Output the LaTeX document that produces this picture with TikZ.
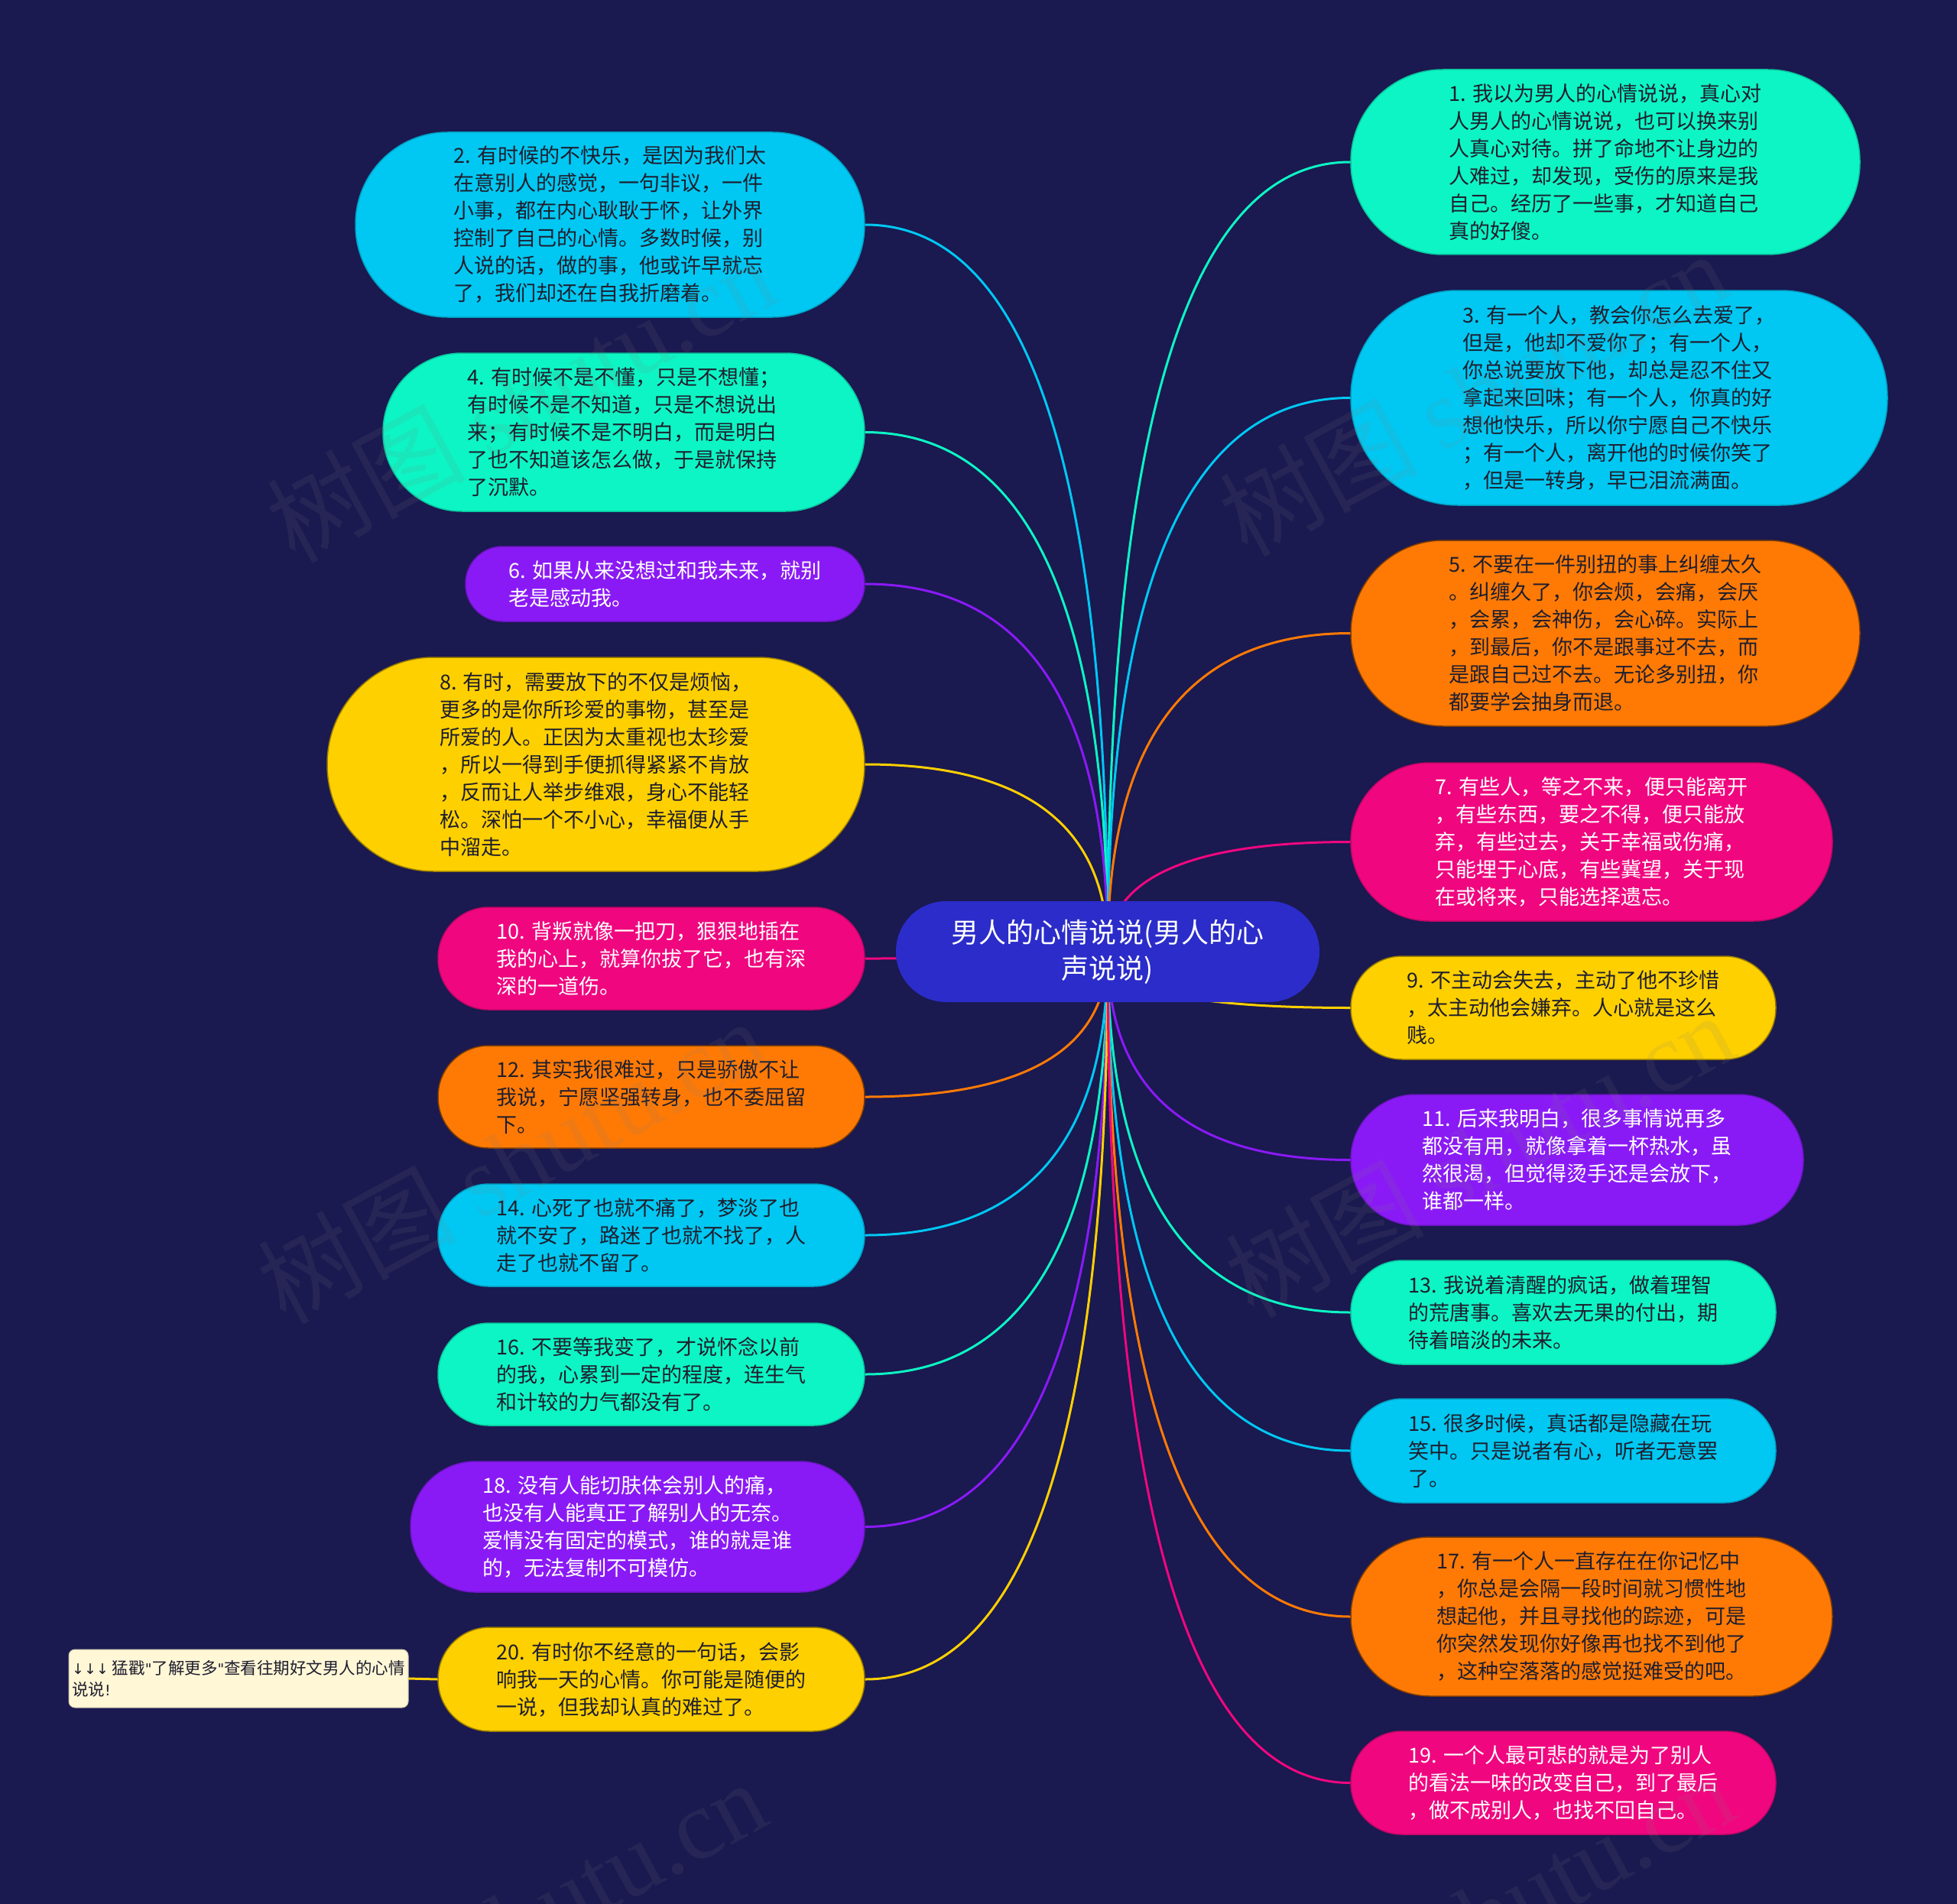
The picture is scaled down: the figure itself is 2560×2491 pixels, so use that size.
\documentclass[tikz,border=0pt]{standalone}
\usepackage{fontspec}
\setmainfont{Noto Sans CJK SC}
\newfontfamily\wmserif{Liberation Serif}
\newfontfamily\symf{DejaVu Sans}
\usetikzlibrary{calc}
\definecolor{bgc}{HTML}{1A1950}
\definecolor{ccyan}{HTML}{00C8F2}
\definecolor{caqua}{HTML}{0DF5C4}
\definecolor{cpurp}{HTML}{8A1AF5}
\definecolor{cyell}{HTML}{FFD000}
\definecolor{cpink}{HTML}{F0077F}
\definecolor{corng}{HTML}{FF7A05}
\definecolor{croot}{HTML}{2B2CC9}
\definecolor{cnote}{HTML}{FFF7D6}
\definecolor{dtext}{HTML}{1E1E2E}
\pgfdeclarelayer{bglayer}
\pgfdeclarelayer{edgelayer}
\pgfdeclarelayer{wmlayer}
\pgfsetlayers{bglayer,edgelayer,main,wmlayer}
\tikzset{
  bub/.style 2 args={rectangle, rounded corners=#2*0.5pt-0.5pt,
    minimum width=#1pt, minimum height=#2pt, inner sep=0pt, align=left,
    font=\fontsize{27}{36}\selectfont, text=dtext, line width=1.5pt},
  cyanbox/.style={fill=ccyan, draw=ccyan!80!black},
  aquabox/.style={fill=caqua, draw=caqua!80!black},
  yellbox/.style={fill=cyell, draw=cyell!60!black},
  orngbox/.style={fill=corng, draw=corng!50!black},
  purpbox/.style={fill=cpurp, draw=cpurp!80!black, text=white},
  pinkbox/.style={fill=cpink, draw=cpink!80!black, text=white},
  rootbox/.style={rectangle, rounded corners=65.5pt, minimum width=554pt,
    minimum height=132pt, inner sep=0pt, align=center, fill=croot,
    text=white, font=\fontsize{36}{47}\selectfont},
  notebox/.style={rectangle, rounded corners=8pt, minimum width=444pt,
    minimum height=76pt, inner sep=0pt, align=left, fill=cnote,
    draw=cnote!80!black, line width=1pt, text=dtext,
    font=\fontsize{21.5}{28}\selectfont},
  conn/.style={line width=3pt, line cap=round},
  wm/.style={text=gray, opacity=0.12, font=\fontsize{130}{130}\selectfont, inner sep=0pt}
}
\newcommand\linkL[2]{\draw[conn,#2] (root.center) .. controls ($(root.center)!0.6667!(root.center |- #1.east)$) and ($(#1.east)!0.6667!(root.center |- #1.east)$) .. (#1.east);}
\newcommand\linkR[2]{\draw[conn,#2] (root.center) .. controls ($(root.center)!0.6667!(root.center |- #1.west)$) and ($(#1.west)!0.6667!(root.center |- #1.west)$) .. (#1.west);}
\begin{document}
\begin{tikzpicture}[x=1pt,y=-1pt]
\begin{pgfonlayer}{bglayer}
\fill[bgc] (0,0) rectangle (2560,2491);
\end{pgfonlayer}
\useasboundingbox (0,0) rectangle (2560,2491);

\node[rootbox] (root) at (1449,1245) {男人的心情说说(男人的心\\声说说)};

% left side
\node[bub={666}{242}, cyanbox] (n2) at (798,294) {2. 有时候的不快乐，是因为我们太\\在意别人的感觉，一句非议，一件\\小事，都在内心耿耿于怀，让外界\\控制了自己的心情。多数时候，别\\人说的话，做的事，他或许早就忘\\了，我们却还在自我折磨着。};
\node[bub={630}{207}, aquabox] (n4) at (816,565.5) {4. 有时候不是不懂，只是不想懂；\\有时候不是不知道，只是不想说出\\来；有时候不是不明白，而是明白\\了也不知道该怎么做，于是就保持\\了沉默。};
\node[bub={522}{98}, purpbox] (n6) at (870,764) {6. 如果从来没想过和我未来，就别\\老是感动我。};
\node[bub={703}{280}, yellbox] (n8) at (779.5,1000) {8. 有时，需要放下的不仅是烦恼，\\更多的是你所珍爱的事物，甚至是\\所爱的人。正因为太重视也太珍爱\\，所以一得到手便抓得紧紧不肯放\\，反而让人举步维艰，身心不能轻\\松。深怕一个不小心，幸福便从手\\中溜走。};
\node[bub={558}{134}, pinkbox] (n10) at (852,1254) {10. 背叛就像一把刀，狠狠地插在\\我的心上，就算你拔了它，也有深\\深的一道伤。};
\node[bub={558}{134}, orngbox] (n12) at (852,1435) {12. 其实我很难过，只是骄傲不让\\我说，宁愿坚强转身，也不委屈留\\下。};
\node[bub={558}{134}, cyanbox] (n14) at (852,1616) {14. 心死了也就不痛了，梦淡了也\\就不安了，路迷了也就不找了，人\\走了也就不留了。};
\node[bub={558}{134}, aquabox] (n16) at (852,1798) {16. 不要等我变了，才说怀念以前\\的我，心累到一定的程度，连生气\\和计较的力气都没有了。};
\node[bub={594}{171}, purpbox] (n18) at (834,1997.5) {18. 没有人能切肤体会别人的痛，\\也没有人能真正了解别人的无奈。\\爱情没有固定的模式，谁的就是谁\\的，无法复制不可模仿。};
\node[bub={558}{136}, yellbox] (n20) at (852,2197) {20. 有时你不经意的一句话，会影\\响我一天的心情。你可能是随便的\\一说，但我却认真的难过了。};
\node[notebox] (note) at (312,2196) {{\symf\fontsize{19}{28}\selectfont ↓↓↓} 猛戳{\symf\fontsize{19}{28}\selectfont "}了解更多{\symf\fontsize{19}{28}\selectfont "}查看往期好文男人的心情\\说说{\symf\fontsize{19}{28}\selectfont !}};

% right side
\node[bub={666}{242}, aquabox] (n1) at (2100,212) {1. 我以为男人的心情说说，真心对\\人男人的心情说说，也可以换来别\\人真心对待。拼了命地不让身边的\\人难过，却发现，受伤的原来是我\\自己。经历了一些事，才知道自己\\真的好傻。};
\node[bub={702}{281}, cyanbox] (n3) at (2118,520.5) {3. 有一个人，教会你怎么去爱了，\\但是，他却不爱你了；有一个人，\\你总说要放下他，却总是忍不住又\\拿起来回味；有一个人，你真的好\\想他快乐，所以你宁愿自己不快乐\\；有一个人，离开他的时候你笑了\\，但是一转身，早已泪流满面。};
\node[bub={666}{243}, orngbox] (n5) at (2100,828.5) {5. 不要在一件别扭的事上纠缠太久\\。纠缠久了，你会烦，会痛，会厌\\，会累，会神伤，会心碎。实际上\\，到最后，你不是跟事过不去，而\\是跟自己过不去。无论多别扭，你\\都要学会抽身而退。};
\node[bub={630}{207}, pinkbox] (n7) at (2082,1101.5) {7. 有些人，等之不来，便只能离开\\，有些东西，要之不得，便只能放\\弃，有些过去，关于幸福或伤痛，\\只能埋于心底，有些冀望，关于现\\在或将来，只能选择遗忘。};
\node[bub={556}{135}, yellbox] (n9) at (2045,1318.5) {9. 不主动会失去，主动了他不珍惜\\，太主动他会嫌弃。人心就是这么\\贱。};
\node[bub={592}{171}, purpbox] (n11) at (2063,1517.5) {11. 后来我明白，很多事情说再多\\都没有用，就像拿着一杯热水，虽\\然很渴，但觉得烫手还是会放下，\\谁都一样。};
\node[bub={556}{136}, aquabox] (n13) at (2045,1717) {13. 我说着清醒的疯话，做着理智\\的荒唐事。喜欢去无果的付出，期\\待着暗淡的未来。};
\node[bub={556}{136}, cyanbox] (n15) at (2045,1898) {15. 很多时候，真话都是隐藏在玩\\笑中。只是说者有心，听者无意罢\\了。};
\node[bub={630}{208}, orngbox] (n17) at (2082,2115) {17. 有一个人一直存在在你记忆中\\，你总是会隔一段时间就习惯性地\\想起他，并且寻找他的踪迹，可是\\你突然发现你好像再也找不到他了\\，这种空落落的感觉挺难受的吧。};
\node[bub={556}{135}, pinkbox] (n19) at (2045,2332.5) {19. 一个人最可悲的就是为了别人\\的看法一味的改变自己，到了最后\\，做不成别人，也找不回自己。};

\begin{pgfonlayer}{edgelayer}
\linkL{n2}{ccyan}
\linkL{n4}{caqua}
\linkL{n6}{cpurp}
\linkL{n8}{cyell}
\linkL{n10}{cpink}
\linkL{n12}{corng}
\linkL{n14}{ccyan}
\linkL{n16}{caqua}
\linkL{n18}{cpurp}
\linkL{n20}{cyell}
\linkR{n1}{caqua}
\linkR{n3}{ccyan}
\linkR{n5}{corng}
\linkR{n7}{cpink}
\linkR{n9}{cyell}
\linkR{n11}{cpurp}
\linkR{n13}{caqua}
\linkR{n15}{ccyan}
\linkR{n17}{corng}
\linkR{n19}{cpink}
\draw[conn,cyell] (n20.west) -- (note.east);
\end{pgfonlayer}

\begin{pgfonlayer}{wmlayer}
\node[wm, rotate=28.5] (wm1) at (681,522) {树图 {\wmserif shutu.cn}};
\node[wm, rotate=28.5] (wm2) at (1927,514) {树图 {\wmserif shutu.cn}};
\node[wm, rotate=28.5] (wm3) at (669,1518) {树图 {\wmserif shutu.cn}};
\node[wm, rotate=28.5] (wm4) at (1935,1510) {树图 {\wmserif shutu.cn}};
\node[wm, rotate=28.5] (wm5) at (669,2514) {树图 {\wmserif shutu.cn}};
\node[wm, rotate=28.5] (wm6) at (1935,2506) {树图 {\wmserif shutu.cn}};
\end{pgfonlayer}
\end{tikzpicture}
\end{document}
